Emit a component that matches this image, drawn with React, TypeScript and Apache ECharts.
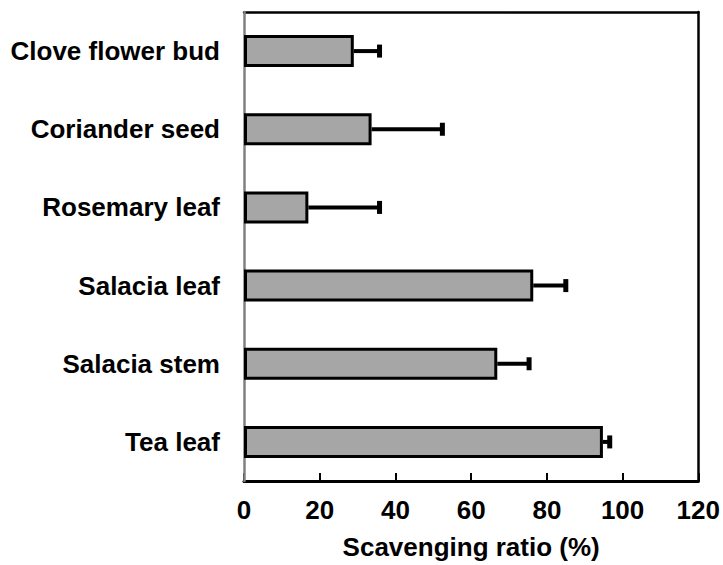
import React, { useEffect, useRef } from "react";
import * as echarts from "echarts";

const categories = [
  "Clove flower bud",
  "Coriander seed",
  "Rosemary leaf",
  "Salacia leaf",
  "Salacia stem",
  "Tea leaf",
];
const values = [29.0, 33.7, 17.0, 76.4, 66.9, 94.8];
const errors = [6.8, 18.7, 18.8, 8.6, 8.4, 1.8];
const xTicks = [0, 20, 40, 60, 80, 100, 120];

const FONT = "'Liberation Sans', Arial, Helvetica, sans-serif";

export default function App() {
  const ref = useRef<HTMLDivElement>(null);
  useEffect(() => {
    if (!ref.current) return;
    const chart = echarts.init(ref.current, null, { renderer: "svg" });
    const errData = categories.map((_, i) => [values[i], i, values[i] + errors[i]]);
    chart.setOption({
      animation: false,
      backgroundColor: "#ffffff",
      grid: { left: 244, right: 22, top: 12, bottom: 84, containLabel: false },
      xAxis: [
        {
          type: "value",
          min: xTicks[0],
          max: xTicks[xTicks.length - 1],
          interval: 20,
          position: "bottom",
          name: "Scavenging ratio (%)",
          nameLocation: "middle",
          nameGap: 53,
          nameTextStyle: { fontFamily: FONT, fontWeight: "bold", fontSize: 26, color: "#000" },
          axisLine: { show: true, onZero: false, lineStyle: { color: "#000", width: 3 } },
          axisTick: { show: true, inside: true, length: 8, lineStyle: { color: "#000", width: 2 } },
          axisLabel: { margin: 16, fontFamily: FONT, fontWeight: "bold", fontSize: 26, color: "#000" },
          splitLine: { show: false },
        },
        {
          type: "value",
          min: 0,
          max: 120,
          interval: 20,
          position: "top",
          axisLine: { show: true, onZero: false, lineStyle: { color: "#000", width: 2.5 } },
          axisTick: { show: false },
          axisLabel: { show: false },
          splitLine: { show: false },
        },
      ],
      yAxis: [
        {
          type: "category",
          data: categories,
          inverse: true,
          position: "left",
          axisLine: { show: true, onZero: false, lineStyle: { color: "#808080", width: 2.5 } },
          axisTick: { show: false },
          axisLabel: { margin: 24, fontFamily: FONT, fontWeight: "bold", fontSize: 26, color: "#000" },
          z: 1,
        },
        {
          type: "category",
          data: categories,
          inverse: true,
          position: "right",
          axisLine: { show: true, onZero: false, lineStyle: { color: "#000", width: 2.5 } },
          axisTick: { show: false },
          axisLabel: { show: false },
        },
      ],
      series: [
        {
          type: "bar",
          xAxisIndex: 0,
          yAxisIndex: 0,
          data: values,
          barWidth: 32,
          itemStyle: { color: "#a6a6a6", borderColor: "#000", borderWidth: 3 },
          z: 2,
        },
        {
          type: "custom",
          xAxisIndex: 0,
          yAxisIndex: 0,
          data: errData,
          z: 3,
          renderItem: (params: any, api: any) => {
            const start = api.coord([api.value(0), api.value(1)]);
            const end = api.coord([api.value(2), api.value(1)]);
            return {
              type: "group",
              children: [
                {
                  type: "line",
                  shape: { x1: start[0], y1: start[1], x2: end[0], y2: end[1] },
                  style: { stroke: "#000", lineWidth: 4 },
                },
                {
                  type: "line",
                  shape: { x1: end[0], y1: end[1] - 6.5, x2: end[0], y2: end[1] + 6.5 },
                  style: { stroke: "#000", lineWidth: 5 },
                },
              ],
            };
          },
        },
      ],
    });
    return () => chart.dispose();
  }, []);
  return (
    <div
      ref={ref}
      style={{ position: "fixed", left: 0, top: 0, width: 723, height: 565 }}
    />
  );
}
